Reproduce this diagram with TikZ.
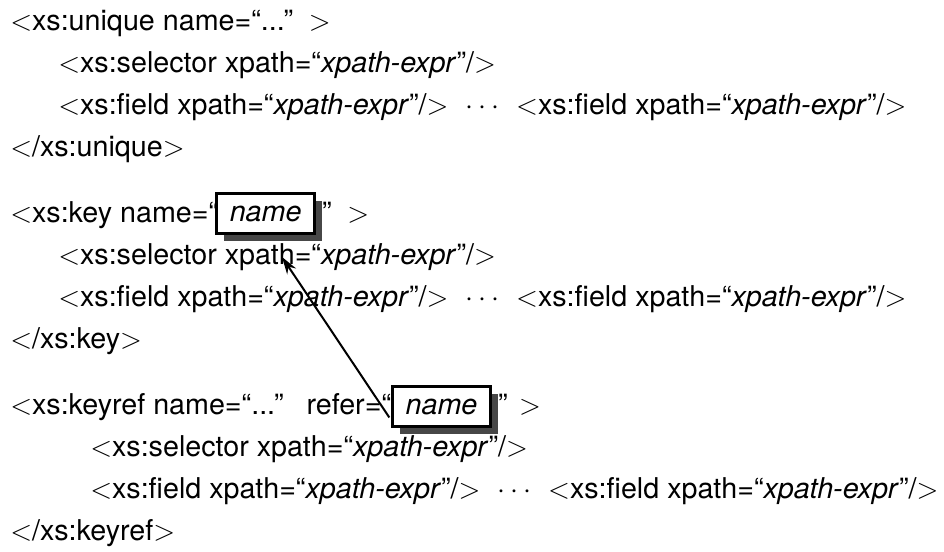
\RequirePackage{fix-cm}
\documentclass[tikz,border=0pt]{standalone}
\usepackage[no-math]{fontspec}
\setmainfont{TeX Gyre Heros}
\usetikzlibrary{shadows,arrows.meta,calc}
\newcommand{\xlt}{\ensuremath{<}}
\newcommand{\xgt}{\ensuremath{>}}
\newcommand{\xpe}{“\textit{xpath-expr}”}
\newcommand{\fieldtag}{\xlt xs:field xpath=\xpe/\xgt}
\newcommand{\seltag}{\xlt xs:selector xpath=\xpe/\xgt}
\newcommand{\dotsgap}{\hspace{0.6em}$\cdots$\hspace{0.6em}}
\begin{document}
\begin{tikzpicture}[x=0.75pt, y=-0.75pt,
  txt/.style={anchor=base west, inner sep=0pt, font=\fontsize{21.5pt}{26pt}\selectfont},
  namebox/.style={draw, line width=1.8pt, fill=white, inner sep=0pt,
    minimum width=73.5pt, minimum height=30pt,
    font=\fontsize{21.5pt}{26pt}\selectfont\itshape,
    drop shadow={shadow xshift=5.5pt, shadow yshift=-5.5pt, fill=black!72, opacity=1}},
  conn/.style={line width=1.5pt, -{Stealth[length=13pt,width=8pt]}}]
\useasboundingbox (0,0) rectangle (944,551);
% xs:unique
\node[txt] (u1) at (10,30) {\xlt xs:unique name=“...”\hspace{0.55em}\xgt};
\node[txt] (u2) at (58,72) {\seltag};
\node[txt] (u3) at (58,114) {\fieldtag\dotsgap\fieldtag};
\node[txt] (u4) at (10,156) {\xlt/xs:unique\xgt};
% xs:key
\node[txt] (k1) at (10,222) {\xlt xs:key name=“};
\node[namebox, anchor=west] (kname) at ($(k1.base east)+(-3,-8.5)$) {name};
\node[txt] (k1b) at ($(kname.east)+(6,8.5)$) {”\hspace{0.55em}\xgt};
\node[txt] (k2) at (58,264) {\seltag};
\node[txt] (k3) at (58,306) {\fieldtag\dotsgap\fieldtag};
\node[txt] (k4) at (10,348) {\xlt/xs:key\xgt};
% xs:keyref
\node[txt] (r1) at (10,414) {\xlt xs:keyref name=“...”\hspace{0.8em}refer=“};
\node[namebox, anchor=west] (rname) at ($(r1.base east)+(0,-7.5)$) {name};
\node[txt] (r1b) at ($(rname.east)+(6,7.5)$) {”\hspace{0.4em}\xgt};
\node[txt] (r2) at (90,456) {\seltag};
\node[txt] (r3) at (90,498) {\fieldtag\dotsgap\fieldtag};
\node[txt] (r4) at (10,540) {\xlt/xs:keyref\xgt};
% connector
\coordinate (tip) at (282,257);
\draw[conn] ($(rname.west)+(-2,11)$) -- (tip);
\end{tikzpicture}
\end{document}
